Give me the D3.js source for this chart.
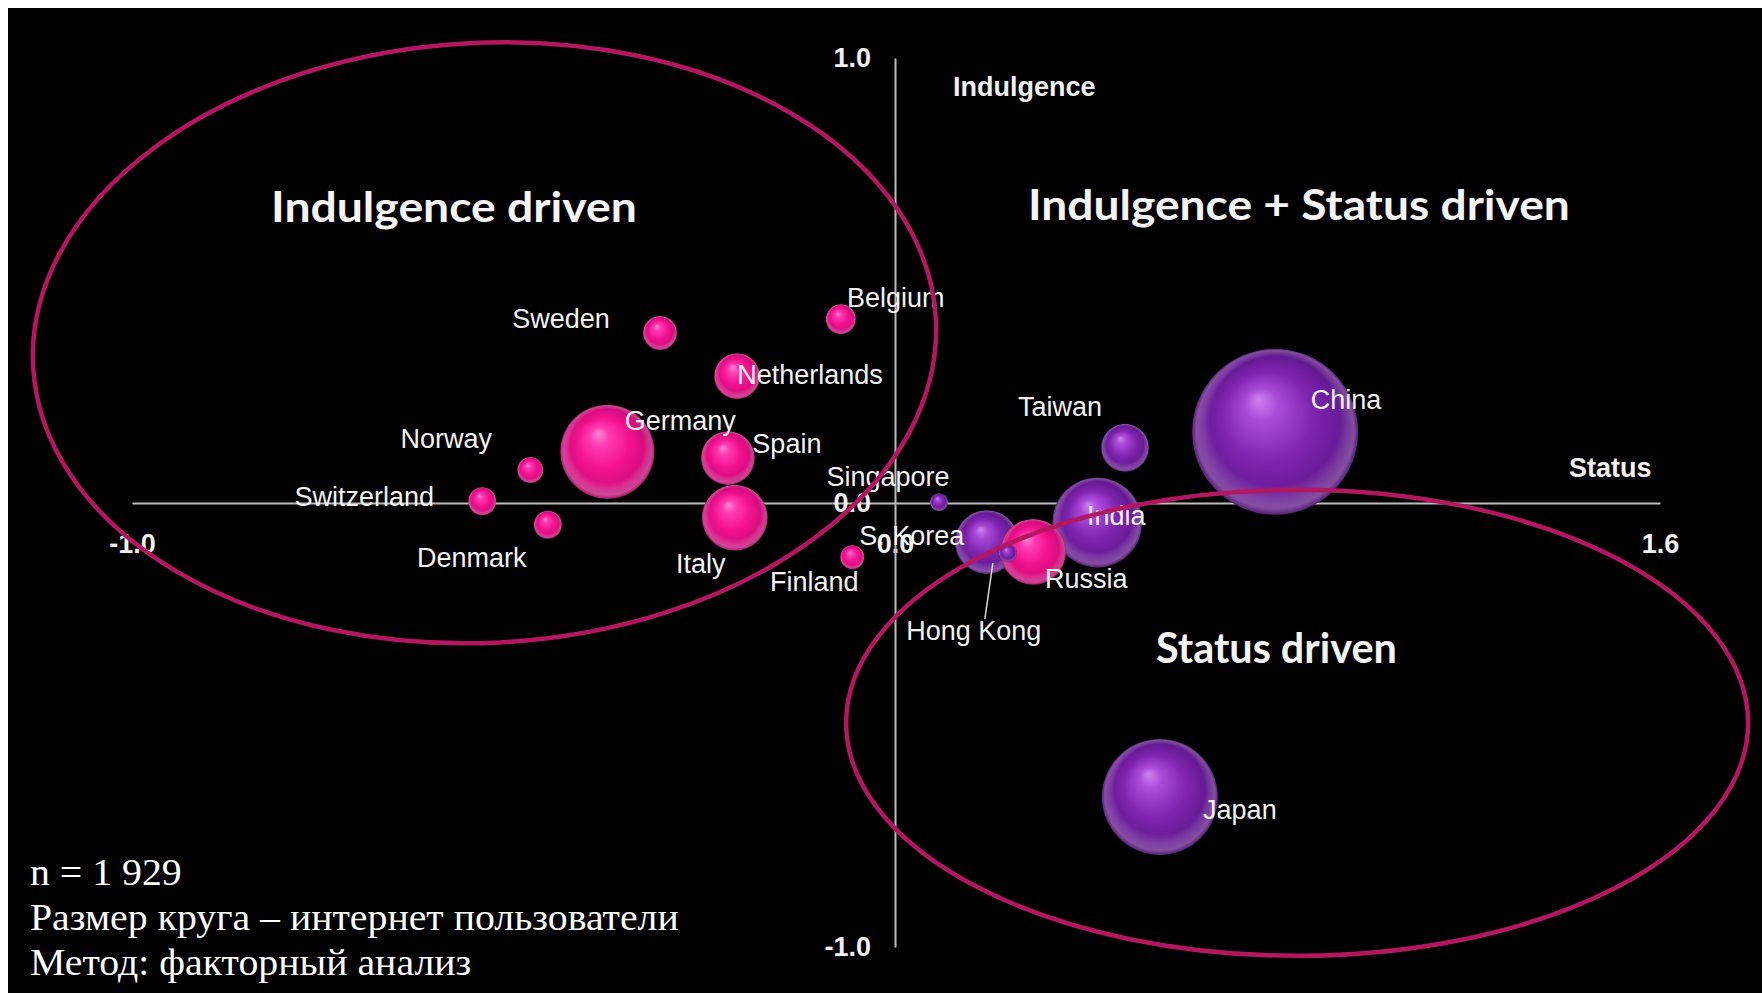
<!DOCTYPE html>
<html>
<head>
<meta charset="utf-8">
<script src="https://cdn.jsdelivr.net/npm/d3@7"></script>
<style>
  html, body { margin: 0; padding: 0; background: #ffffff; }
  svg { display: block; }
</style>
</head>
<body>
<svg id="chart" width="1762" height="993"></svg>
<script>
// ---- Data -------------------------------------------------------------
const countries = ["Sweden", "Belgium", "Netherlands", "Germany", "Norway", "Spain",
  "Switzerland", "Denmark", "Italy", "Finland", "Singapore", "Taiwan", "China",
  "Japan", "India", "S. Korea", "Russia", "Hong Kong"];
// factor 1 (horizontal): Status
const statusScores = [-0.308, -0.071, -0.207, -0.377, -0.478, -0.219,
  -0.541, -0.455, -0.210, -0.056, 0.092, 0.481, 0.795,
  0.554, 0.423, 0.192, 0.289, 0.236];
// factor 2 (vertical): Indulgence
const indulgenceScores = [0.382, 0.413, 0.285, 0.115, 0.074, 0.101,
  0.004, -0.049, -0.033, -0.122, 0.002, 0.124, 0.160,
  -0.662, -0.044, -0.088, -0.110, -0.113];
// bubble size: internet users (millions)
const internetUsers = [17.6, 13.7, 32, 135, 10.3, 44,
  12, 12, 66, 8.8, 4.9, 35, 420,
  205, 123, 62, 66, 4.9];
const regions = ["Europe", "Europe", "Europe", "Europe", "Europe", "Europe",
  "Europe", "Europe", "Europe", "Europe", "Asia", "Asia", "Asia",
  "Asia", "Asia", "Asia", "Europe", "Asia"];

const xTickValues = [-1.0, 0.0, 1.6];
const yTickValues = [-1.0, 0.0, 1.0];
const xAxisTitle = "Status";
const yAxisTitle = "Indulgence";

const zoneTitles = ["Indulgence driven", "Indulgence + Status driven", "Status driven"];
const footnotes = ["n = 1 929", "Размер круга – интернет пользователи", "Метод: факторный анализ"];

// ---- Layout ------------------------------------------------------------
const W = 1762, H = 993;
const svg = d3.select("#chart");

const x = d3.scaleLinear().domain([-1, 0, 1.6]).range([132, 895, 1660]);
const y = d3.scaleLinear().domain([-1, 0, 1]).range([947, 503, 58]);
const r = d3.scaleSqrt().domain([0, 420]).range([0, 83]);

// label placement relative to each bubble centre
const labelOffset = {
  "Sweden": [-99, -15], "Belgium": [55, -22], "Netherlands": [73, -2],
  "Germany": [73, -32], "Norway": [-84, -32], "Spain": [59, -15],
  "Switzerland": [-118, -5], "Denmark": [-76, 33], "Italy": [-34, 46],
  "Finland": [-38, 24], "Singapore": [-51, -26], "Taiwan": [-65, -42],
  "China": [71, -33], "Japan": [80, 12], "India": [19, -7],
  "S. Korea": [-75, -7], "Russia": [53, 26], "Hong Kong": [-34, 77]
};

const points = countries.map((c, i) => ({
  name: c, status: statusScores[i], indulgence: indulgenceScores[i],
  users: internetUsers[i], region: regions[i]
}));

// ---- Background (slide frame) -------------------------------------------
svg.append("rect").attr("x", 8).attr("y", 8).attr("width", W - 8).attr("height", H - 8)
  .attr("fill", "#000000");

// ---- Gradients for the shaded spheres -----------------------------------
const defs = svg.append("defs");
function sphere(id, stops) {
  const g = defs.append("radialGradient").attr("id", id)
    .attr("cx", 0.5).attr("cy", 0.5).attr("r", 0.5)
    .attr("fx", 0.4).attr("fy", 0.3);
  stops.forEach(s => g.append("stop").attr("offset", s[0]).attr("stop-color", s[1]));
}
sphere("ball-Europe", [[0, "#ff8ad8"], [0.2, "#ff3cb2"], [0.55, "#f3128f"], [0.86, "#d30c7c"], [1, "#a0075a"]]);
sphere("ball-Asia", [[0, "#d382f2"], [0.2, "#a94ad8"], [0.55, "#7f24ae"], [0.86, "#641992"], [1, "#46106a"]]);

const rim = defs.append("radialGradient").attr("id", "rim")
  .attr("cx", 0.5).attr("cy", 0.5).attr("r", 0.5).attr("fx", 0.5).attr("fy", 0.2);
[[0, "#ffffff", 0], [0.78, "#ffffff", 0], [0.95, "#ffd8ff", 0.3], [1, "#ffd8ff", 0.08]]
  .forEach(s => rim.append("stop").attr("offset", s[0]).attr("stop-color", s[1]).attr("stop-opacity", s[2]));

// ---- Axes ---------------------------------------------------------------
// one decimal, plain hyphen for negatives
const fmt = v => d3.format(".1f")(v).replace("\u2212", "-");
const xAxis = svg.append("g").attr("transform", `translate(0,${y(0)})`)
  .call(d3.axisBottom(x).tickValues(xTickValues).tickSize(0).tickPadding(31).tickFormat(fmt));
const yAxis = svg.append("g").attr("transform", `translate(${x(0)},0)`)
  .call(d3.axisLeft(y).tickValues(yTickValues).tickSize(0).tickPadding(24).tickFormat(fmt));
[xAxis, yAxis].forEach(a => {
  a.select(".domain").attr("stroke", "#bdbdbd").attr("stroke-width", 2);
  a.selectAll("text").attr("fill", "#f0f0f0")
    .attr("font-family", "'Liberation Sans', Arial, sans-serif")
    .attr("font-size", 27).attr("font-weight", "bold");
});

const axisTitleStyle = s => s.attr("fill", "#f0f0f0")
  .attr("font-family", "'Liberation Sans', Arial, sans-serif")
  .attr("font-size", 27).attr("font-weight", "bold");
svg.append("text").attr("x", 953).attr("y", 96).text(yAxisTitle).call(axisTitleStyle);
svg.append("text").attr("x", 1569).attr("y", 477).text(xAxisTitle).call(axisTitleStyle);

// ---- Bubbles ------------------------------------------------------------
const bubble = svg.append("g").selectAll("g").data(points).join("g")
  .attr("transform", d => `translate(${x(d.status)},${y(d.indulgence)})`);
bubble.append("circle").attr("r", d => r(d.users)).attr("fill", d => `url(#ball-${d.region})`);
bubble.append("circle").attr("r", d => r(d.users)).attr("fill", "url(#rim)");

// leader line for the small Hong Kong bubble
const hk = points.find(d => d.name === "Hong Kong");
svg.append("line")
  .attr("x1", x(hk.status) - 15).attr("y1", y(hk.indulgence) + 10)
  .attr("x2", x(hk.status) - 23).attr("y2", y(hk.indulgence) + 66)
  .attr("stroke", "#d8d8d8").attr("stroke-width", 1.5);

// ---- Country labels -----------------------------------------------------
svg.append("g").selectAll("text").data(points).join("text")
  .attr("x", d => x(d.status) + labelOffset[d.name][0])
  .attr("y", d => y(d.indulgence) + labelOffset[d.name][1])
  .attr("dy", "0.36em")
  .attr("text-anchor", "middle")
  .attr("fill", "#f2f2f2")
  .attr("font-family", "'Liberation Sans', Arial, sans-serif")
  .attr("font-size", 27)
  .text(d => d.name);

// ---- Segment outlines -----------------------------------------------------
const outline = svg.append("g").attr("fill", "none").attr("stroke", "#b3175f").attr("stroke-width", 4.5);
outline.append("ellipse").attr("cx", 0).attr("cy", 0).attr("rx", 452).attr("ry", 300)
  .attr("transform", `translate(${x(-0.538)},${y(0.36)}) rotate(-3)`);
outline.append("ellipse").attr("cx", 0).attr("cy", 0).attr("rx", 451).attr("ry", 233)
  .attr("transform", `translate(${x(0.841)},${y(-0.495)})`);

// ---- Segment titles -----------------------------------------------------
function fitWidth(sel, width) {
  const len = sel.node().getComputedTextLength();
  sel.attr("transform", `scale(${width / len},1)`);
}
const titlePos = [[271, 222, 366], [1028, 220, 542], [1156, 663, 241]];
zoneTitles.forEach((t, i) => {
  const g = svg.append("g").attr("transform", `translate(${titlePos[i][0]},${titlePos[i][1]})`);
  const txt = g.append("text").attr("fill", "#f4f4f4")
    .attr("font-family", "Lato, 'Open Sans', sans-serif")
    .attr("font-weight", "bold").attr("font-size", 42).text(t);
  fitWidth(txt, titlePos[i][2]);
});

// ---- Footnotes ------------------------------------------------------------
const notes = svg.append("g").attr("transform", "translate(30,0)");
const noteTexts = notes.selectAll("text").data(footnotes).join("text")
  .attr("x", 0).attr("y", (d, i) => 885 + i * 45)
  .attr("fill", "#ffffff")
  .attr("font-family", "'Liberation Serif', 'Times New Roman', serif")
  .attr("font-size", 38)
  .text(d => d);
const longest = noteTexts.filter((d, i) => i === 1).node().getComputedTextLength();
notes.attr("transform", `translate(30,0) scale(${649 / longest},1)`);
</script>
</body>
</html>
